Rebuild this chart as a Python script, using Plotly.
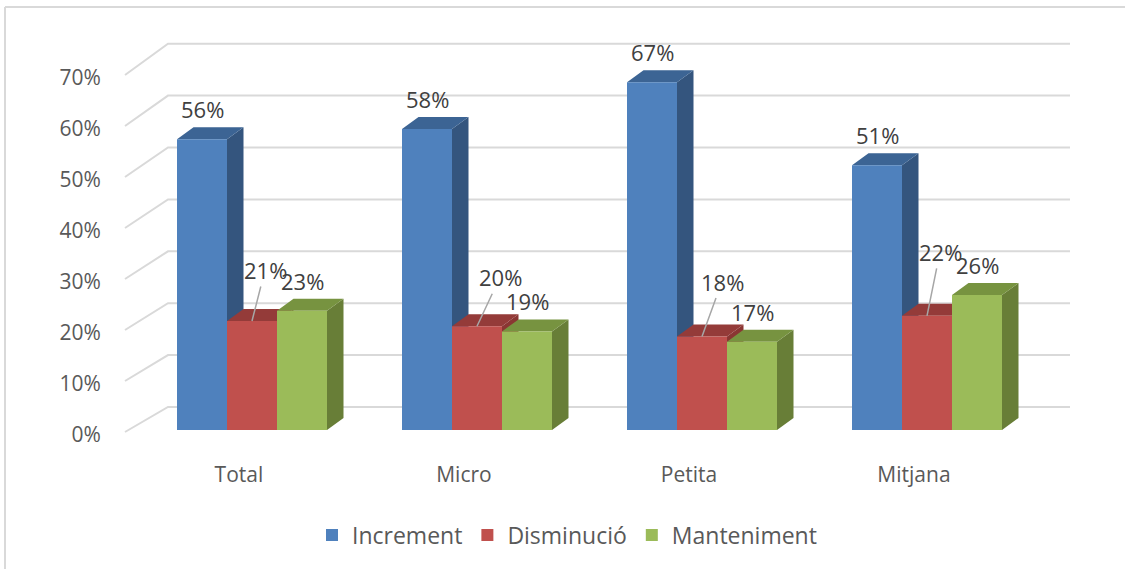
import plotly.graph_objects as go

# ---------------- data ----------------
categories = ["Total", "Micro", "Petita", "Mitjana"]
series_names = ["Increment", "Disminució", "Manteniment"]
increment = [56, 58, 67, 51]
disminucio = [21, 20, 18, 22]
manteniment = [23, 19, 17, 26]
y_ticks = [0, 10, 20, 30, 40, 50, 60, 70]

# ---------------- styling / geometry ----------------
W, H = 1125, 569
ML, MR, MT, MB = 110, 45, 30, 109
PW, PH = W - ML - MR, H - MT - MB
PX_X = 225.0            # px per category unit
X0_PX = 252.0           # pixel x of first group center
Y0_PX = 430.0           # pixel y of value 0 on the bar plane
PX_Y = 5.19             # px per percent on the bar plane

x_range = [(ML - X0_PX) / PX_X, (ML + PW - X0_PX) / PX_X]
y_range = [-(MT + PH - Y0_PX) / PX_Y, (Y0_PX - MT) / PX_Y]

# front-plane axis for tick labels
LBL0_PX, LBL_PX_Y = 435.0, 5.1
y2_range = [-(MT + PH - LBL0_PX) / LBL_PX_Y, (LBL0_PX - MT) / LBL_PX_Y]

BW = 50 / PX_X          # bar width
DX = 16.5 / PX_X        # depth offset x
DY = 12 / PX_Y          # depth offset y
BACK_DY = 23 / PX_Y     # back wall vertical shift
WALL_X0 = (168 - X0_PX) / PX_X
WALL_X1 = (1070 - X0_PX) / PX_X
FRONT_X = (125 - X0_PX) / PX_X

front_colors = ["#4F81BD", "#C0504D", "#9BBB59"]
side_colors = ["#34557E", "#8A3633", "#687E37"]
top_colors = ["#3C6494", "#943B39", "#779340"]
grid_color = "#D9D9D9"
text_color = "#595959"
label_color = "#404040"
FONT = "Open Sans"
red_label_shift = [(13, -51), (23, -49), (20, -55), (13, -64)]

all_values = [increment, disminucio, manteniment]
offsets = [-BW, 0.0, BW]

fig = go.Figure()

# ---- legend entries (bar traces, no marks of their own) ----
for s, name in enumerate(series_names):
    fig.add_trace(go.Bar(x=[None], y=[None], name=name,
                         marker=dict(color=front_colors[s], line=dict(width=0))))

# ---- gridlines (back wall + left diagonals) ----
gx, gy = [], []
for v in y_ticks:
    front_y = (Y0_PX - 432 + (432 - 75) / 70 * v) / PX_Y
    gx += [FRONT_X, WALL_X0, WALL_X1, None]
    gy += [front_y, v + BACK_DY, v + BACK_DY, None]
fig.add_trace(go.Scatter(x=gx, y=gy, mode="lines",
                         line=dict(color=grid_color, width=2),
                         hoverinfo="skip", showlegend=False))


def add_faces(kind):
    for s, vals in enumerate(all_values):
        px, py = [], []
        for i, v in enumerate(vals):
            xl = i + offsets[s] - BW / 2
            xr = xl + BW
            if kind == "side":
                px += [xr, xr + DX, xr + DX, xr, xr, None]
                py += [0, DY, v + DY, v, 0, None]
            elif kind == "top":
                px += [xl, xl + DX, xr + DX, xr, xl, None]
                py += [v, v + DY, v + DY, v, v, None]
            else:
                px += [xl, xl, xr, xr, xl, None]
                py += [0, v, v, 0, 0, None]
        color = {"side": side_colors, "top": top_colors, "front": front_colors}[kind][s]
        fig.add_trace(go.Scatter(
            x=px, y=py, mode="lines", fill="toself", fillcolor=color,
            line=dict(width=0, color=color), showlegend=False,
            hoverinfo="skip" if kind != "front" else "text",
            text=f"{series_names[s]}"))


add_faces("side")
add_faces("top")
add_faces("front")

# dummy trace for the label axis
fig.add_trace(go.Scatter(x=[0], y=[0], yaxis="y2", mode="markers",
                         marker=dict(opacity=0), hoverinfo="skip",
                         showlegend=False))

# ---- data labels ----
annotations = []
lab_font = dict(family=FONT, size=22, color=label_color)
for i in range(len(categories)):
    for s in (0, 2):
        v = all_values[s][i]
        annotations.append(dict(x=i + offsets[s], y=v + DY, xref="x", yref="y",
                                text=f"{v}%", showarrow=False, yanchor="bottom",
                                yshift=1, font=lab_font))
    v = disminucio[i]
    ax, ay = red_label_shift[i]
    annotations.append(dict(x=i + offsets[1], y=v, xref="x", yref="y",
                            text=f"{v}%", showarrow=True, arrowhead=0,
                            arrowwidth=1.5, arrowcolor="#A6A6A6",
                            ax=ax, ay=ay, font=lab_font))


# ---- chart frame (left & top edges) ----
def px2paper_x(p):
    return (p - ML) / PW


def px2paper_y(p):
    return (MT + PH - p) / PH


shapes = [
    dict(type="line", xref="paper", yref="paper", layer="below",
         x0=px2paper_x(5), x1=px2paper_x(5), y0=px2paper_y(7), y1=px2paper_y(H),
         line=dict(color=grid_color, width=2)),
    dict(type="line", xref="paper", yref="paper", layer="below",
         x0=px2paper_x(5), x1=px2paper_x(W), y0=px2paper_y(7), y1=px2paper_y(7),
         line=dict(color=grid_color, width=2)),
]

fig.update_layout(
    width=W, height=H,
    margin=dict(l=ML, r=MR, t=MT, b=MB, pad=0),
    paper_bgcolor="white", plot_bgcolor="white",
    barmode="overlay", bargap=0,
    font=dict(family=FONT, size=21, color=text_color),
    xaxis=dict(range=x_range, showgrid=False, zeroline=False, showline=False,
               tickvals=[i - 0.058 for i in range(len(categories))],
               ticktext=categories, ticks="",
               tickfont=dict(family=FONT, size=21, color=text_color)),
    yaxis=dict(range=y_range, showgrid=False, zeroline=False, showline=False,
               showticklabels=False, ticks=""),
    yaxis2=dict(range=y2_range, overlaying="y", side="left", showgrid=False,
                zeroline=False, showline=False, tickvals=y_ticks,
                ticktext=[f"{t}%" for t in y_ticks], ticks="outside",
                ticklen=4, tickcolor="rgba(0,0,0,0)",
                tickfont=dict(family=FONT, size=21, color=text_color)),
    legend=dict(orientation="h", x=px2paper_x(567), xanchor="center",
                y=px2paper_y(535), yanchor="middle",
                font=dict(family=FONT, size=23, color=text_color),
                itemwidth=30, bgcolor="rgba(0,0,0,0)"),
    annotations=annotations,
    shapes=shapes,
)

fig.write_html("out.html",
               config={"displayModeBar": False},
               post_script="document.body.style.margin='0';"
                           "document.body.style.overflow='hidden';")
